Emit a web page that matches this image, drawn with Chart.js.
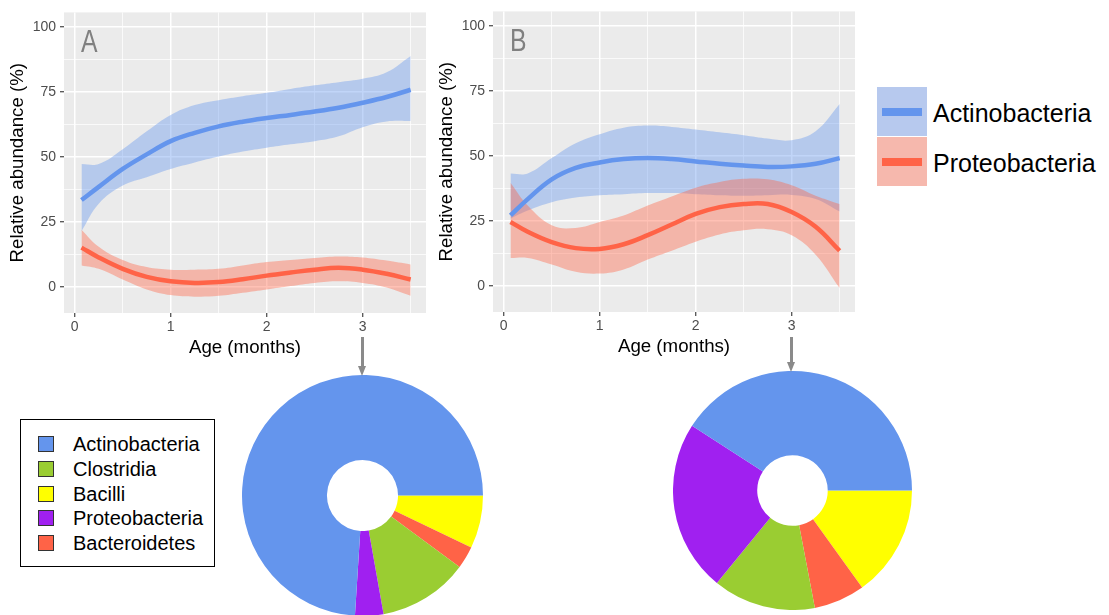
<!DOCTYPE html>
<html>
<head>
<meta charset="utf-8">
<script src="https://cdn.jsdelivr.net/npm/chart.js@4"></script>
<style>
  body { margin: 0; width: 1109px; height: 615px; overflow: hidden; background: #fff;
         font-family: "Liberation Sans", Arial, sans-serif; position: relative; }
  canvas, .abs { position: absolute; }
  .arrow { position: absolute; width: 3px; background: #8a8a8a; }
  .head { position: absolute; width: 0; height: 0; border-left: 4.5px solid transparent;
          border-right: 4.5px solid transparent; border-top: 10px solid #8a8a8a; }
  .key { position: absolute; left: 877px; width: 50px; height: 49px; }
  .key i { position: absolute; left: 5px; top: 21px; width: 40px; height: 8px; }
  .ktxt { position: absolute; left: 933px; font-size: 25px; line-height: 30px; color: #000; }
  #box { position: absolute; left: 20px; top: 419px; width: 193px; height: 146px; border: 1px solid #000; }
  .row { position: absolute; left: 17px; height: 20px; font-size: 20px; line-height: 20px; }
  .row b { position: absolute; left: 0; top: 2px; width: 14px; height: 14px; border: 1px solid #333; }
  .row span { position: absolute; left: 35px; top: 0; white-space: nowrap; }
</style>
</head>
<body>
<canvas id="lineA" width="440" height="360" style="left:0;top:0"></canvas>
<canvas id="lineB" width="440" height="360" style="left:429px;top:-1px"></canvas>
<canvas id="pieA" width="241" height="241" style="left:242px;top:375px"></canvas>
<canvas id="pieB" width="239" height="239" style="left:673px;top:371px"></canvas>

<div class="arrow" style="left:361px;top:337px;height:30px"></div>
<div class="head" style="left:358px;top:366px"></div>
<div class="arrow" style="left:790px;top:337px;height:26px"></div>
<div class="head" style="left:787px;top:362px"></div>

<div class="key" style="top:87px;background:rgb(183,201,238)"><i style="background:#6495ED"></i></div>
<div class="key" style="top:137px;background:rgb(246,184,173)"><i style="background:#FF6347"></i></div>
<div class="ktxt" style="top:98px">Actinobacteria</div>
<div class="ktxt" style="top:148px">Proteobacteria</div>

<div id="box"></div>

<script>
// x positions (months) at which the curves were read
const age = [0.07, 0.25, 0.5, 0.75, 1, 1.25, 1.5, 1.75, 2, 2.25, 2.5, 2.75, 3, 3.25, 3.5];

// panel A
const actinoA   = [33.4, 38.5, 45.4, 51, 56.1, 59.3, 61.8, 63.6, 65, 66.2, 67.5, 69, 70.9, 73.1, 75.9];
const actinoAHi = [47.3, 47.3, 53, 59.9, 66.2, 70, 71.9, 73.4, 74.7, 76.2, 77.6, 78.8, 80.1, 82.6, 88.9];
const actinoALo = [21.4, 32, 39, 42.2, 45.4, 47.9, 50.2, 52.1, 53.6, 54.9, 56.1, 58, 61.5, 63.7, 63.9];
const proteoA   = [15.1, 11.3, 6.9, 3.8, 2.1, 1.5, 1.8, 2.9, 4.3, 5.5, 6.6, 7.3, 6.6, 5, 2.8];
const proteoAHi = [22, 15.4, 10.3, 7.6, 6.6, 6.6, 6.9, 8.2, 9.5, 10.3, 11.1, 11.7, 11.3, 10.1, 8.6];
const proteoALo = [8.2, 6.9, 2.8, -1, -3.2, -3.8, -3.5, -2.3, -1, 0.3, 1.5, 2.1, 1.5, -0.3, -3.5];

// panel B
const actinoB   = [27.1, 33.4, 41, 45.4, 47.5, 48.8, 49.2, 48.8, 47.9, 47, 46.3, 45.8, 46, 47, 49.2];
const actinoBHi = [43.3, 43.3, 49.2, 54.9, 58.4, 60.9, 61.7, 61.2, 60.2, 59.1, 58, 56.7, 56.1, 59.5, 70];
const actinoBLo = [25.9, 29, 32.2, 34, 34.9, 35.3, 35.7, 35.7, 35.3, 34.9, 34.7, 34.9, 35, 33.4, 28.6];
const proteoB   = [24.6, 20.8, 16.8, 14.5, 14.2, 16, 19.5, 23.6, 27.7, 30.3, 31.5, 31.5, 28.4, 22.7, 13.5];
const proteoBHi = [39.7, 30.9, 23.3, 22.3, 24.6, 27.1, 30.9, 34.4, 37.8, 40, 41.2, 41, 38.7, 34.7, 31.5];
const proteoBLo = [10.7, 10.7, 8.2, 5.4, 4.7, 6.3, 10.1, 13.5, 17, 19.8, 21.4, 21.8, 19.5, 12, -0.9];

const yTicks = [0, 12.5, 25, 37.5, 50, 62.5, 75, 87.5, 100];
const xTicks = [0, 0.5, 1, 1.5, 2, 2.5, 3, 3.5];

// doughnuts (percent), slices clockwise from 3 o'clock
const pieLabels = ['Bacilli', 'Bacteroidetes', 'Clostridia', 'Proteobacteria', 'Actinobacteria'];
const pieA = [7.1, 3.0, 12.1, 3.8, 74.0];
const pieB = [15.1, 6.9, 13.9, 23.2, 40.9];

const legendNames = ['Actinobacteria', 'Clostridia', 'Bacilli', 'Proteobacteria', 'Bacteroidetes'];

const colors = {
  Actinobacteria: '#6495ED', Clostridia: '#9ACD32', Bacilli: '#FFFF00',
  Proteobacteria: '#A020F0', Bacteroidetes: '#FF6347'
};

Chart.defaults.font.family = '"Liberation Sans", Arial, sans-serif';
Chart.defaults.animation = false;

const pts = arr => age.map((x, i) => ({ x: x, y: arr[i] }));

const panelBg = {
  id: 'panelBg',
  beforeDraw(chart) {
    const a = chart.chartArea, ctx = chart.ctx;
    ctx.save();
    ctx.fillStyle = '#EBEBEB';
    ctx.fillRect(a.left, a.top, a.right - a.left, a.bottom - a.top);
    ctx.restore();
  }
};

const letter = {
  id: 'letter',
  beforeDatasetsDraw(chart, args, opts) {
    const ctx = chart.ctx;
    ctx.save();
    ctx.fillStyle = '#808080';
    ctx.font = '31px "Liberation Sans", Arial, sans-serif';
    ctx.textBaseline = 'alphabetic';
    ctx.translate(chart.chartArea.left + 17, 51.5);
    ctx.scale(0.8, 1);
    ctx.fillText(opts.text, 0, 0);
    ctx.restore();
  }
};

function band(data, color, order, fill) {
  return {
    data: pts(data), borderColor: 'transparent', borderWidth: 0, pointRadius: 0,
    backgroundColor: color, fill: fill, order: order, tension: 0.4
  };
}

function lineChart(id, tag, aLine, aHi, aLo, pLine, pHi, pLo) {
  const major = v => Math.abs(v % 25) < 1e-6;
  const majorX = v => Math.abs(v % 1) < 1e-6;
  new Chart(document.getElementById(id), {
    type: 'line',
    data: {
      datasets: [
        { data: pts(aLine), borderColor: '#6495ED', borderWidth: 4.5, pointRadius: 0, tension: 0.4, fill: false, order: 1 },
        { data: pts(pLine), borderColor: '#FF6347', borderWidth: 4.5, pointRadius: 0, tension: 0.4, fill: false, order: 0 },
        band(aHi, 'rgba(100,149,237,0.4)', 3, false),
        band(aLo, 'rgba(100,149,237,0.4)', 3, '-1'),
        band(pHi, 'rgba(255,99,71,0.4)', 2, false),
        band(pLo, 'rgba(255,99,71,0.4)', 2, '-1')
      ]
    },
    options: {
      responsive: false,
      devicePixelRatio: 1,
      layout: { padding: { left: 0, right: 14, top: 7, bottom: 0 } },
      plugins: { legend: { display: false }, tooltip: { enabled: false }, letter: { text: tag } },
      scales: {
        x: {
          type: 'linear', min: -0.112, max: 3.66,
          afterBuildTicks: s => { s.ticks = xTicks.map(v => ({ value: v })); },
          afterFit: s => { s.height = 47; },
          border: { display: false },
          grid: {
            color: '#FFFFFF',
            lineWidth: c => majorX(c.tick.value) ? 1.5 : 0.75,
            tickColor: c => majorX(c.tick.value) ? '#333333' : 'rgba(0,0,0,0)',
            tickLength: 4, tickWidth: 1.1
          },
          ticks: {
            autoSkip: false, maxRotation: 0, padding: 2, color: '#4D4D4D', font: { size: 14 },
            callback: v => majorX(v) ? String(v) : ''
          },
          title: { display: true, text: 'Age (months)', color: '#000', font: { size: 18.7 }, padding: { top: 0, bottom: 1 } }
        },
        y: {
          min: -10.1, max: 105.7,
          afterBuildTicks: s => { s.ticks = yTicks.map(v => ({ value: v })); },
          afterFit: s => { s.width = 64; },
          border: { display: false },
          grid: {
            color: '#FFFFFF',
            lineWidth: c => major(c.tick.value) ? 1.5 : 0.75,
            tickColor: c => major(c.tick.value) ? '#333333' : 'rgba(0,0,0,0)',
            tickLength: 4, tickWidth: 1.1
          },
          ticks: {
            autoSkip: false, padding: 4, color: '#4D4D4D', font: { size: 14 },
            callback: v => major(v) ? String(v) : ''
          },
          title: { display: true, text: 'Relative abundance (%)', color: '#000', font: { size: 18.7 }, padding: { top: 7, bottom: 0 } }
        }
      }
    },
    plugins: [panelBg, letter]
  });
}

lineChart('lineA', 'A', actinoA, actinoAHi, actinoALo, proteoA, proteoAHi, proteoALo);
lineChart('lineB', 'B', actinoB, actinoBHi, actinoBLo, proteoB, proteoBHi, proteoBLo);

function pie(id, values) {
  new Chart(document.getElementById(id), {
    type: 'doughnut',
    data: {
      labels: pieLabels,
      datasets: [{ data: values, backgroundColor: pieLabels.map(n => colors[n]), borderWidth: 0 }]
    },
    options: {
      responsive: false, devicePixelRatio: 1, cutout: '29.5%', rotation: 90,
      plugins: { legend: { display: false }, tooltip: { enabled: false } }
    }
  });
}
pie('pieA', pieA);
pie('pieB', pieB);

// legend box for the doughnuts
const box = document.getElementById('box');
legendNames.forEach((n, i) => {
  const r = document.createElement('div');
  r.className = 'row';
  r.style.top = (14 + i * 24.75) + 'px';
  r.innerHTML = '<b style="background:' + colors[n] + '"></b><span>' + n + '</span>';
  box.appendChild(r);
});
</script>
</body>
</html>
